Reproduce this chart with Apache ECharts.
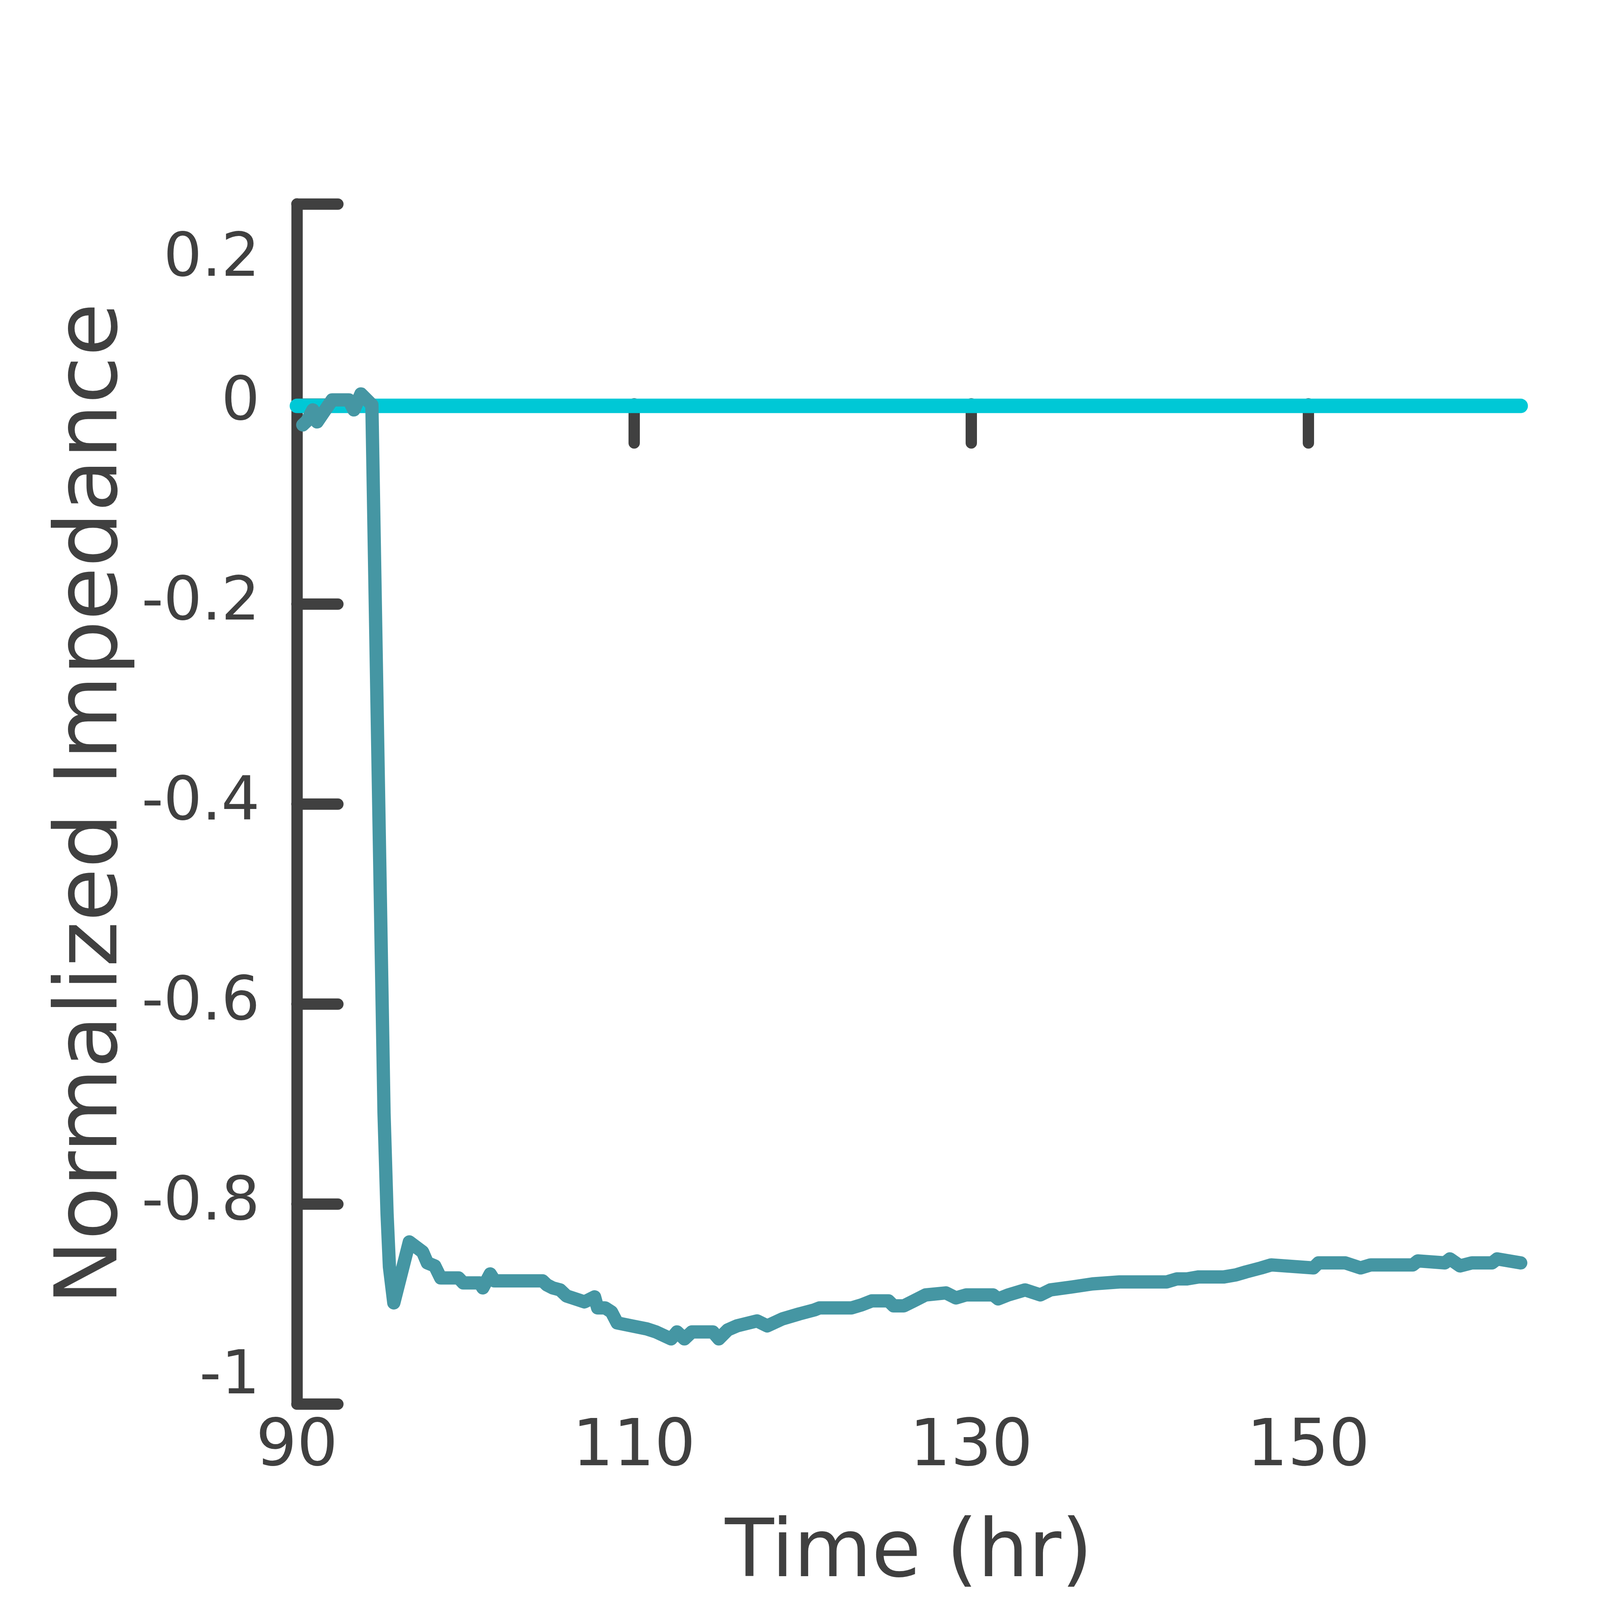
<!DOCTYPE html>
<html>
<head>
<meta charset="utf-8">
<title>Normalized Impedance</title>
<script src="https://cdn.jsdelivr.net/npm/echarts@6.0.0/dist/echarts.min.js"></script>
<style>
  html, body { margin: 0; padding: 0; background: #ffffff; }
  #chart { width: 4218px; height: 4167px; }
</style>
</head>
<body>
<div id="chart"></div>
<script>
// 读图得到的数据
var impedanceTime = [
  90.35, 90.6, 90.95, 91.2, 92.09, 93.08, 93.38, 93.8, 94.45, 95.17,
  95.35, 95.49, 95.75, 96.67, 97.46, 97.74, 98.18, 98.53, 99.59, 99.87,
  100.85, 101.03, 101.47, 101.73, 104.58, 104.83, 105.18, 105.62, 105.99, 106.52,
  107.06, 107.66, 107.84, 108.29, 108.66, 109.0, 109.88, 110.76, 111.3, 112.2,
  112.55, 112.99, 113.43, 114.68, 115.03, 115.56, 116.1, 117.3, 117.9, 118.8,
  119.8, 120.7, 121.0, 122.9, 123.5, 124.1, 125.1, 125.4, 126.0, 126.6,
  127.3, 128.5, 129.1, 129.7, 131.3, 131.6, 132.2, 133.2, 134.1, 134.7,
  136.0, 137.2, 138.8, 141.6, 142.2, 142.8, 143.5, 145.0, 145.7, 146.3,
  147.2, 147.8, 150.3, 150.6, 152.2, 153.1, 153.7, 156.2, 156.5, 158.1,
  158.4, 159.0, 159.7, 160.9, 161.2, 162.6
];
var impedanceValue = [
  -0.021, -0.017, -0.006, -0.018, 0.004, 0.004, -0.006, 0.010, -0.001, -0.709,
  -0.810, -0.863, -0.899, -0.838, -0.848, -0.859, -0.862, -0.874, -0.874, -0.879,
  -0.879, -0.884, -0.870, -0.877, -0.877, -0.881, -0.884, -0.886, -0.892, -0.895,
  -0.898, -0.893, -0.904, -0.904, -0.908, -0.919, -0.922, -0.925, -0.928, -0.935,
  -0.928, -0.935, -0.928, -0.928, -0.935, -0.926, -0.922, -0.917, -0.922, -0.915,
  -0.910, -0.906, -0.904, -0.904, -0.901, -0.897, -0.897, -0.902, -0.902, -0.897,
  -0.891, -0.889, -0.894, -0.891, -0.891, -0.895, -0.891, -0.886, -0.891, -0.886,
  -0.883, -0.880, -0.878, -0.878, -0.875, -0.875, -0.873, -0.873, -0.871, -0.868,
  -0.864, -0.861, -0.864, -0.859, -0.859, -0.864, -0.861, -0.861, -0.857, -0.859,
  -0.855, -0.862, -0.859, -0.859, -0.855, -0.859
];
var controlTime = [90, 100, 110, 120, 130, 140, 150, 162.6];
var controlValue = [-0.002, -0.002, -0.002, -0.002, -0.002, -0.002, -0.002, -0.002];

var xLabelValues = [90, 110, 130, 150];
var xTickValues = [110, 130, 150];

var axisColor = '#404040';
var fontName = 'DejaVu Sans';

function pairs(xs, ys) {
  var out = [];
  for (var i = 0; i < xs.length; i++) {
    out.push([xs[i], ys[i]]);
  }
  return out;
}

var chart = echarts.init(document.getElementById('chart'), null, {
  width: 4218,
  height: 4167
});

var option = {
  backgroundColor: '#ffffff',
  animation: false,
  grid: {
    left: 760,
    right: 325,
    top: 522,
    bottom: 573,
    containLabel: false,
    outerBoundsMode: 'none'
  },
  xAxis: [{
    // 底部只放刻度文字和标题
    type: 'value',
    min: 90,
    max: 162.6,
    position: 'bottom',
    axisLine: { show: false, onZero: false },
    axisTick: { show: false },
    splitLine: { show: false },
    axisLabel: {
      customValues: xLabelValues,
      color: axisColor,
      fontFamily: fontName,
      fontSize: 165,
      margin: 32
    },
    name: 'Time (hr)',
    nameLocation: 'middle',
    nameGap: 285,
    nameTextStyle: {
      color: axisColor,
      fontFamily: fontName,
      fontSize: 205
    }
  }, {
    // 0 处的轴线与向下的刻度
    type: 'value',
    min: 90,
    max: 162.6,
    position: 'bottom',
    axisLine: {
      show: true,
      onZero: true,
      lineStyle: { color: axisColor, width: 26, cap: 'round' }
    },
    axisTick: {
      show: true,
      inside: false,
      length: 100,
      customValues: xTickValues,
      lineStyle: { color: axisColor, width: 29, cap: 'round' }
    },
    axisLabel: { show: false },
    splitLine: { show: false }
  }],
  yAxis: {
    type: 'value',
    min: -1,
    max: 0.2,
    interval: 0.2,
    axisLine: {
      show: true,
      onZero: false,
      lineStyle: { color: axisColor, width: 29, cap: 'round' }
    },
    axisTick: {
      show: true,
      inside: true,
      length: 105,
      lineStyle: { color: axisColor, width: 29, cap: 'round' }
    },
    splitLine: { show: false },
    axisLabel: {
      color: axisColor,
      fontFamily: fontName,
      fontSize: 155,
      margin: 95,
      formatter: function (value) {
        var v = Math.round(value * 10) / 10;
        if (Math.abs(v - 0.2) < 1e-6) return '{down|0.2}';
        if (Math.abs(v + 1) < 1e-6) return '{up|-1}';
        return String(v);
      },
      rich: {
        down: {
          color: axisColor,
          fontFamily: fontName,
          fontSize: 155,
          padding: [288, 0, 0, 0]
        },
        up: {
          color: axisColor,
          fontFamily: fontName,
          fontSize: 155,
          padding: [0, 0, 134, 0]
        }
      }
    },
    name: 'Normalized Impedance',
    nameLocation: 'middle',
    nameGap: 400,
    nameTextStyle: {
      color: axisColor,
      fontFamily: fontName,
      fontSize: 222
    }
  },
  series: [{
    name: 'Control',
    type: 'line',
    xAxisIndex: 0,
    data: pairs(controlTime, controlValue),
    showSymbol: false,
    lineStyle: { color: '#00C8D6', width: 37, cap: 'round', join: 'round' },
    z: 3
  }, {
    name: 'Impedance',
    type: 'line',
    xAxisIndex: 0,
    data: pairs(impedanceTime, impedanceValue),
    showSymbol: false,
    lineStyle: { color: '#4596A3', width: 34, cap: 'round', join: 'round' },
    z: 4
  }]
};

chart.setOption(option);
</script>
</body>
</html>
